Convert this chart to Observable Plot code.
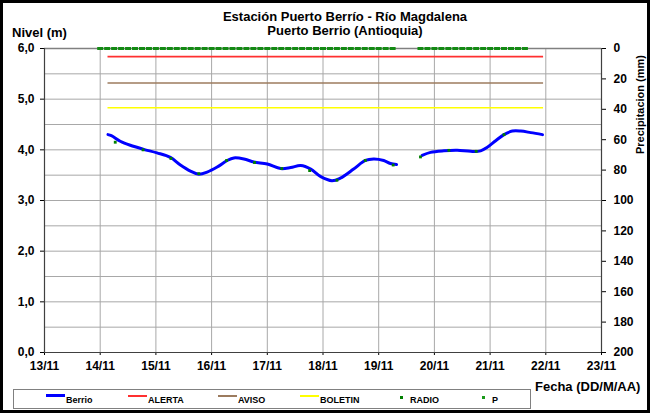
<!DOCTYPE html>
<html><head><meta charset="utf-8">
<script src="https://cdn.jsdelivr.net/npm/d3@7"></script>
<script src="https://cdn.jsdelivr.net/npm/@observablehq/plot@0.6"></script>
<style>
body{margin:0;background:#fff;font-family:"Liberation Sans",Arial,sans-serif;}
#wrap{position:relative;width:650px;height:413px;overflow:hidden;background:#fff;}
#wrap > svg{position:absolute;left:0;top:0;}
.t{position:absolute;font-weight:bold;color:#000;white-space:nowrap;font-size:13px;line-height:13px;}
#frame{position:absolute;left:0;top:0;width:650px;height:413px;box-sizing:border-box;border:3px solid #000;pointer-events:none;}
#legend{position:absolute;left:13px;top:389px;width:518px;height:20px;box-sizing:border-box;border:1px solid #808080;}
.li{position:absolute;top:5px;font-size:9px;font-weight:bold;line-height:10px;}
.ls{position:absolute;top:4px;height:0;}
.ld{position:absolute;top:3px;width:3px;height:3px;}
</style></head><body><div id="wrap"></div><script>
// Berrio level (m) by day of November
const berrioDay = [14.14,14.20,14.36,14.54,14.78,15.02,15.26,15.44,15.62,15.77,15.92,16.10,16.28,16.40,16.58,16.76,17.00,17.24,17.42,17.60,17.78,17.96,18.16,18.31,18.55,18.76,18.91,19.09,19.21,19.32,19.50,19.78,19.93,20.17,20.41,20.65,20.83,20.95,21.10,21.25,21.40,21.55,21.73,21.94];
const berrioLevel = [4.30,4.28,4.17,4.09,4.01,3.94,3.85,3.70,3.58,3.52,3.56,3.66,3.79,3.84,3.82,3.76,3.72,3.63,3.65,3.69,3.62,3.47,3.39,3.44,3.62,3.79,3.82,3.79,3.73,3.71,null,3.89,3.95,3.98,3.99,3.97,3.98,4.05,4.18,4.30,4.37,4.37,4.34,4.30];
// RADIO readings
const radioDay = [14.27,14.77,15.27,15.77,16.27,16.77,17.26,17.76,18.25,18.76,19.26,19.75,20.26,20.75,21.25];
const radioLevel = [4.15,4.00,3.83,3.53,3.79,3.75,3.63,3.59,3.40,3.79,3.70,3.86,3.99,3.97,4.30];
// Thresholds (m)
const thresholdNames = ["ALERTA","AVISO","BOLETIN"];
const thresholdLevels = [5.84,5.32,4.83];
const thresholdColors = ["#ff3030","#9c7b5e","#ffff00"];
const thresholdStart = 14.14, thresholdEnd = 21.96;
// Precipitation P (mm)
const pDay = [14.000,14.125,14.250,14.375,14.500,14.625,14.750,14.875,15.000,15.125,15.250,15.375,15.500,15.625,15.750,15.875,16.000,16.125,16.250,16.375,16.500,16.625,16.750,16.875,17.000,17.125,17.250,17.375,17.500,17.625,17.750,17.875,18.000,18.125,18.250,18.375,18.500,18.625,18.750,18.875,19.000,19.125,19.250,
  19.750,19.875,20.000,20.125,20.250,20.375,20.500,20.625,20.750,20.875,21.000,21.125,21.250,21.375,21.500,21.625];
const pMm = pDay.map(() => 0);
// Axis ticks
const xTickDays = [13,14,15,16,17,18,19,20,21,22,23];
const levelTicks = [0,1,2,3,4,5,6];
const levelGrid = [0.5,1,1.5,2,2.5,3,3.5,4,4.5,5,5.5];
const mmTicks = [0,20,40,60,80,100,120,140,160,180,200];

const mmToLevel = mm => 6 - mm * 6 / 200;

const berrio = berrioDay.map((d,i)=>({day:d, level:berrioLevel[i]}));
const radio = radioDay.map((d,i)=>({day:d, level:radioLevel[i]}));
const precip = pDay.map((d,i)=>({day:d, mm:pMm[i]}));
const thresholds = thresholdNames.map((n,i)=>({name:n, level:thresholdLevels[i], color:thresholdColors[i]}));

const dashSymbol = {draw(ctx){ ctx.rect(-3,-1.5,6,3); }};

const chart = Plot.plot({
  width:650, height:413,
  marginLeft:44, marginRight:49, marginTop:48, marginBottom:61,
  x:{domain:[13,23]},
  y:{domain:[0,6]},
  color:{type:"identity"},
  style:{fontFamily:"Liberation Sans, Arial, sans-serif", fontSize:"12px", fontWeight:"bold"},
  marks:[
    Plot.gridX({ticks:xTickDays.slice(1,-1), stroke:"#a8a8a8", strokeOpacity:1, strokeWidth:1}),
    Plot.gridY({ticks:levelGrid, stroke:"#a8a8a8", strokeOpacity:1, strokeWidth:1}),
    Plot.gridY({ticks:[6], stroke:"#808080", strokeOpacity:1, strokeWidth:1.5}),
    Plot.ruleY(thresholds, {y:"level", x1:()=>thresholdStart, x2:()=>thresholdEnd, stroke:"color", strokeWidth:1.6}),
    Plot.line(berrio, {x:"day", y:"level", stroke:"#0000ff", strokeWidth:3, curve:"catmull-rom"}),
    Plot.dot(radio, {x:"day", y:"level", symbol:"square", r:1.6, fill:"#008000", stroke:"none"}),
    Plot.dot(precip, {x:"day", y:d=>mmToLevel(d.mm), symbol:dashSymbol, fill:"#138a13", stroke:"none"}),
    Plot.axisY({anchor:"left", ticks:levelTicks, tickFormat:d=>d.toFixed(1).replace(".",","), tickSize:4, tickPadding:6, label:null, fontSize:12, fontWeight:"bold"}),
    Plot.axisY({anchor:"right", ticks:mmTicks.map(mmToLevel), tickFormat:(d,i)=>String(mmTicks[i]), tickSize:4, tickPadding:8, label:null, fontSize:12, fontWeight:"bold"}),
    Plot.axisX({anchor:"bottom", ticks:xTickDays, tickFormat:d=>d+"/11", tickSize:3, tickPadding:6, label:null, fontSize:12, fontWeight:"bold"}),
    Plot.ruleX([13], {stroke:"#404040", strokeWidth:1.2}),
    Plot.ruleX([23], {stroke:"#404040", strokeWidth:1.2}),
    Plot.ruleY([0], {stroke:"#404040", strokeWidth:1.2})
  ]
});

const wrap = document.getElementById("wrap");
wrap.appendChild(chart);

function addText(txt, style){
  const el = document.createElement("div");
  el.className = "t"; el.textContent = txt;
  Object.assign(el.style, style);
  wrap.appendChild(el);
  return el;
}
addText("Estación Puerto Berrío - Río Magdalena", {left:"0px", width:"690px", textAlign:"center", top:"10px", lineHeight:"13px"});
addText("Puerto Berrio (Antioquia)", {left:"0px", width:"690px", textAlign:"center", top:"24px", lineHeight:"13px"});
addText("Nivel (m)", {left:"12px", top:"26px"});
addText("Fecha (DD/M/AA)", {left:"535px", top:"380px"});
addText("Precipitacion (mm)", {left:"585px", top:"98px", width:"110px", textAlign:"center", transform:"rotate(-90deg)", fontSize:"11px"});

const legend = document.createElement("div");
legend.id = "legend";
wrap.appendChild(legend);
const legendItems = [
  {label:"Berrio", type:"line", color:"#0000ff", w:3, x:32},
  {label:thresholdNames[0], type:"line", color:thresholdColors[0], w:2, x:114},
  {label:thresholdNames[1], type:"line", color:thresholdColors[1], w:2, x:204},
  {label:thresholdNames[2], type:"line", color:thresholdColors[2], w:2, x:286},
  {label:"RADIO", type:"dot", color:"#008000", x:385},
  {label:"P", type:"dot", color:"#1a9a1a", x:467}
];
legendItems.forEach(it=>{
  if(it.type==="line"){
    const s = document.createElement("div"); s.className="ls";
    Object.assign(s.style,{left:it.x+"px", width:"19px", borderTop:it.w+"px solid "+it.color, top:(5-it.w/2+0.5)+"px"});
    legend.appendChild(s);
    const l = document.createElement("div"); l.className="li"; l.textContent=it.label;
    l.style.left=(it.x+20)+"px"; legend.appendChild(l);
  } else {
    const s = document.createElement("div"); s.className="ld";
    Object.assign(s.style,{left:(it.x+1)+"px", top:"6px", background:it.color});
    legend.appendChild(s);
    const l = document.createElement("div"); l.className="li"; l.textContent=it.label;
    l.style.left=(it.x+11)+"px"; legend.appendChild(l);
  }
});

const frame = document.createElement("div"); frame.id="frame"; wrap.appendChild(frame);
</script></body></html>
